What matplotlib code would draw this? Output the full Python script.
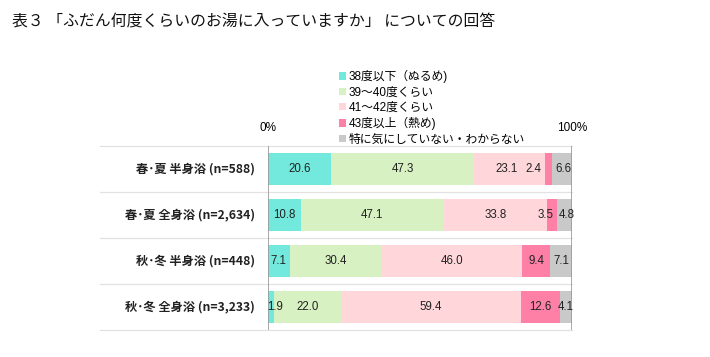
import matplotlib.pyplot as plt
import numpy as np

plt.rcParams['font.family'] = ['Liberation Sans', 'Noto Sans CJK JP', 'DejaVu Sans']

categories = ["春･夏 半身浴 (n=588)", "春･夏 全身浴 (n=2,634)",
              "秋･冬 半身浴 (n=448)", "秋･冬 全身浴 (n=3,233)"]
series = ["38度以下（ぬるめ)", "39～40度くらい", "41～42度くらい",
          "43度以上（熱め)", "特に気にしていない・わからない"]
vals = [[20.6, 10.8, 7.1, 1.9],
        [47.3, 47.1, 30.4, 22.0],
        [23.1, 33.8, 46.0, 59.4],
        [2.4, 3.5, 9.4, 12.6],
        [6.6, 4.8, 7.1, 4.1]]
colors = ["#72E9DC", "#D8F1C2", "#FFD6D9", "#FF80A6", "#C9C9C9"]
# label nudges (x units) for the cramped segments
nudge = {(2, 0): -1.0, (3, 0): -5.0, (3, 1): -2.0, (0, 3): 1.3, (4, 0): 0.6, (4, 1): 0.6}

fig = plt.figure(figsize=(7.1, 3.57), dpi=100)
ax = fig.add_axes([268/710, 1-330/357, 304/710, 184/357])

y = np.arange(len(categories))
vals = np.array(vals)
totals = vals.sum(axis=0)
left = np.zeros(len(categories))
for i, s in enumerate(series):
    w = vals[i] / totals * 100
    ax.barh(y, w, left=left, height=0.68, color=colors[i], label=s)
    for j in range(len(categories)):
        ax.text(left[j] + w[j]/2 + nudge.get((i, j), 0), y[j], "%.1f" % vals[i][j],
                ha='center', va='center', fontsize=8.3, color='#222222')
    left += w

ax.set_xlim(0, 100)
ax.set_ylim(len(categories)-0.5, -0.5)
for sp in ax.spines.values():
    sp.set_visible(False)
ax.set_xticks([])
ax.set_yticks([])

for k in range(len(categories)+1):
    ax.plot([-55.3, 100], [k-0.5, k-0.5], color='#e2e2e2', lw=0.9, clip_on=False, zorder=0)
ax.axvline(0, color='#999999', lw=1.2)
ax.axvline(100, color='#999999', lw=1.2)

for j, c in enumerate(categories):
    ax.text(-4.3, y[j], c, ha='right', va='center', fontsize=8.8, fontweight='bold',
            family=['Noto Sans CJK JP', 'DejaVu Sans'], color='#222222')

ax.text(0, -0.9, "0%", ha='center', va='center', fontsize=8.5, clip_on=False)
ax.text(100, -0.9, "100%", ha='center', va='center', fontsize=8.5, clip_on=False)

leg = fig.legend(loc='upper left', bbox_to_anchor=(339/710, 1-70/357), frameon=False,
                 fontsize=8.5, handlelength=0.6, handleheight=0.6, handletextpad=0.2,
                 labelspacing=0.28, borderpad=0, borderaxespad=0)

fig.text(12/710, 1-22/357, "表３ 「ふだん何度くらいのお湯に入っていますか」 についての回答",
         fontsize=11.4, va='center', ha='left', color='#111111',
         family=['Noto Sans CJK JP', 'DejaVu Sans'])

fig.savefig("out.png", dpi=100)
